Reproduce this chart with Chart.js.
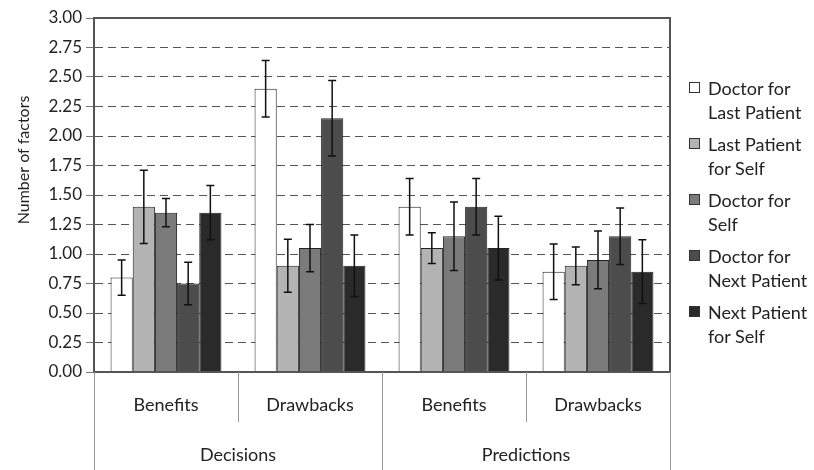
<!DOCTYPE html>
<html lang="en">
<head>
    <meta charset="UTF-8">
    <title>Number of factors</title>
    <script src="https://cdn.jsdelivr.net/npm/chart.js"></script>
    <style>
        body { margin: 0; background: #fff; font-family: Lato, sans-serif; }
        .wrap { position: relative; width: 814px; height: 470px; }
        #legend { position: absolute; left: 689px; top: 76px; color: #222; font-size: 18px; }
        #legend .item { position: relative; padding-left: 19px; line-height: 24px; margin-bottom: 8px; }
        #legend .box { position: absolute; left: 0; top: 6px; width: 11px; height: 11px; border: 1px solid #333; box-sizing: border-box; }
    </style>
</head>
<body>
<div class="wrap">
    <canvas id="chart" width="814" height="470"></canvas>
    <div id="legend"></div>
</div>

<script>
    // chart data
    const categories = ['Benefits', 'Drawbacks', 'Benefits', 'Drawbacks'];
    const groups = ['Decisions', 'Predictions'];
    const seriesNames = [
        ['Doctor for', 'Last Patient'],
        ['Last Patient', 'for Self'],
        ['Doctor for', 'Self'],
        ['Doctor for', 'Next Patient'],
        ['Next Patient', 'for Self']
    ];
    const doctorLast = [0.80, 2.40, 1.40, 0.85];
    const lastSelf   = [1.40, 0.90, 1.05, 0.90];
    const doctorSelf = [1.35, 1.05, 1.15, 0.95];
    const doctorNext = [0.75, 2.15, 1.40, 1.15];
    const nextSelf   = [1.35, 0.90, 1.05, 0.85];
    const errDoctorLast = [0.15, 0.24, 0.24, 0.235];
    const errLastSelf   = [0.31, 0.225, 0.13, 0.16];
    const errDoctorSelf = [0.12, 0.20, 0.29, 0.245];
    const errDoctorNext = [0.18, 0.32, 0.24, 0.24];
    const errNextSelf   = [0.23, 0.26, 0.27, 0.27];

    const values = [doctorLast, lastSelf, doctorSelf, doctorNext, nextSelf];
    const errors = [errDoctorLast, errLastSelf, errDoctorSelf, errDoctorNext, errNextSelf];
    const colors = ['#ffffff', '#b3b3b3', '#7b7b7b', '#4c4c4c', '#2a2a2a'];

    // error bars, frame, separators, y title
    const extras = {
        id: 'extras',
        afterDatasetsDraw(chart) {
            const ctx = chart.ctx;
            const y = chart.scales.y;
            ctx.save();
            ctx.strokeStyle = '#111';
            ctx.lineWidth = 1.5;
            chart.data.datasets.forEach((ds, i) => {
                chart.getDatasetMeta(i).data.forEach((bar, j) => {
                    const v = ds.data[j], e = errors[i][j];
                    const top = y.getPixelForValue(v + e);
                    const bot = y.getPixelForValue(v - e);
                    ctx.beginPath();
                    ctx.moveTo(bar.x, top); ctx.lineTo(bar.x, bot);
                    ctx.moveTo(bar.x - 4, top); ctx.lineTo(bar.x + 4, top);
                    ctx.moveTo(bar.x - 4, bot); ctx.lineTo(bar.x + 4, bot);
                    ctx.stroke();
                });
            });
            ctx.restore();
        },
        afterDraw(chart) {
            const ctx = chart.ctx;
            const a = chart.chartArea;
            ctx.save();
            ctx.strokeStyle = '#555';
            ctx.lineWidth = 2;
            ctx.strokeRect(a.left, a.top, a.right - a.left, a.bottom - a.top);

            // category separators under the axis
            const w = (a.right - a.left) / categories.length;
            ctx.strokeStyle = '#999';
            ctx.lineWidth = 1;
            for (let k = 0; k <= categories.length; k++) {
                const x = Math.round(a.left + k * w) + 0.5;
                const end = (k % 2 === 0) ? chart.height : a.bottom + 50;
                ctx.beginPath();
                ctx.moveTo(x, a.bottom);
                ctx.lineTo(x, end);
                ctx.stroke();
            }

            ctx.fillStyle = '#222';
            ctx.font = '16px Lato';
            ctx.textAlign = 'center';
            ctx.textBaseline = 'middle';
            ctx.translate(24, 160);
            ctx.rotate(-Math.PI / 2);
            ctx.fillText('Number of factors', 0, 0);
            ctx.restore();
        }
    };

    const ctx = document.getElementById('chart').getContext('2d');
    new Chart(ctx, {
        type: 'bar',
        data: {
            labels: categories,
            datasets: values.map((v, i) => ({
                label: seriesNames[i].join(' '),
                data: v,
                backgroundColor: colors[i],
                borderColor: '#222',
                borderWidth: 1,
                categoryPercentage: 0.77,
                barPercentage: 1.0
            }))
        },
        options: {
            responsive: false,
            animation: false,
            layout: { padding: { top: 18, right: 144, left: 0, bottom: 0 } },
            plugins: { legend: { display: false }, tooltip: { enabled: false } },
            scales: {
                x: {
                    grid: { display: false, drawTicks: false },
                    border: { display: false },
                    ticks: { color: '#222', font: { family: 'Lato', size: 18 }, padding: 22, maxRotation: 0, autoSkip: false },
                    afterFit(s) { s.height = 50; }
                },
                x2: {
                    type: 'category',
                    labels: groups,
                    offset: true,
                    position: 'bottom',
                    grid: { display: false, drawTicks: false },
                    border: { display: false },
                    ticks: { color: '#222', font: { family: 'Lato', size: 18 }, padding: 22, maxRotation: 0 },
                    afterFit(s) { s.height = 48; }
                },
                y: {
                    min: 0,
                    max: 3,
                    ticks: {
                        stepSize: 0.25,
                        color: '#222',
                        font: { family: 'Lato', size: 17 },
                        padding: 4,
                        callback: v => v.toFixed(2)
                    },
                    grid: { color: '#555', tickColor: '#777', tickLength: 8, lineWidth: 1 },
                    border: { dash: [8, 5], color: '#555', width: 2 },
                    afterFit(s) { s.width = 94; }
                }
            }
        },
        plugins: [extras]
    });

    // legend
    const legend = document.getElementById('legend');
    seriesNames.forEach((lines, i) => {
        const item = document.createElement('div');
        item.className = 'item';
        item.innerHTML = '<span class="box" style="background:' + colors[i] + '"></span>' + lines.join('<br>');
        legend.appendChild(item);
    });
</script>
</body>
</html>
